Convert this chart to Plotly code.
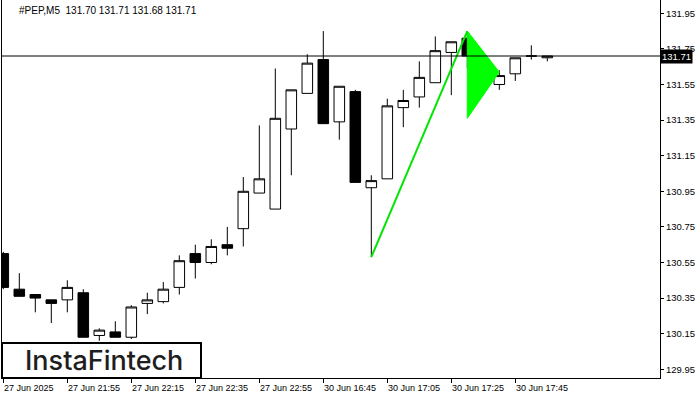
import plotly.graph_objects as go

# ---- data ----
opens  = [130.60, 130.40, 130.37, 130.34, 130.34, 130.38, 130.14, 130.16, 130.13, 130.32,
          130.33, 130.41, 130.60, 130.55, 130.65, 130.74, 130.94, 130.85, 131.30, 131.50,
          131.69, 131.34, 131.51, 130.97, 131.02, 131.42, 131.48, 131.56, 131.73, 131.81,
          131.68, 131.55, 131.61, 131.71, 131.70]
highs  = [130.61, 130.49, 130.37, 130.34, 130.45, 130.40, 130.18, 130.22, 130.31, 130.38,
          130.44, 130.59, 130.65, 130.68, 130.75, 131.03, 131.32, 131.64, 131.52, 131.72,
          131.85, 131.54, 131.52, 131.04, 131.47, 131.52, 131.68, 131.82, 131.79, 131.85,
          131.69, 131.63, 131.70, 131.77, 131.71]
lows   = [130.40, 130.36, 130.27, 130.21, 130.27, 130.13, 130.11, 130.13, 130.12, 130.26,
          130.32, 130.37, 130.46, 130.54, 130.59, 130.64, 130.94, 130.85, 131.04, 131.50,
          131.33, 131.24, 131.00, 130.58, 131.02, 131.31, 131.42, 131.56, 131.49, 131.64,
          131.49, 131.52, 131.57, 131.69, 131.68]
closes = [130.41, 130.36, 130.35, 130.32, 130.41, 130.13, 130.17, 130.13, 130.30, 130.34,
          130.40, 130.56, 130.55, 130.64, 130.63, 130.95, 131.02, 131.36, 131.52, 131.67,
          131.33, 131.54, 131.00, 131.01, 131.43, 131.46, 131.59, 131.74, 131.79, 131.71,
          131.58, 131.60, 131.70, 131.71, 131.71]
bar_index = list(range(len(opens)))

tick_idx = [0, 4, 8, 12, 16, 20, 24, 28, 32]
tick_text = ["27 Jun 2025", "27 Jun 21:55", "27 Jun 22:15", "27 Jun 22:35", "27 Jun 22:55",
             "30 Jun 16:45", "30 Jun 17:05", "30 Jun 17:25", "30 Jun 17:45"]
y_ticks = [129.95, 130.15, 130.35, 130.55, 130.75, 130.95, 131.15, 131.35, 131.55, 131.75, 131.95]

# bullish pennant pattern
pole_x = [23, 29]
pole_y = [130.58, 131.85]
flag_x = [29, 31, 29, 29]
flag_y = [131.85, 131.62, 131.36, 131.85]

symbol = "#PEP,M5"
FONT = "Liberation Sans, Arial, sans-serif"

fig = go.Figure()

fig.add_trace(go.Scatter(x=flag_x, y=flag_y, mode="lines", fill="toself",
                         fillcolor="#00ff00", line=dict(color="#00ff00", width=1),
                         hoverinfo="skip", showlegend=False))
fig.add_trace(go.Scatter(x=pole_x, y=pole_y, mode="lines",
                         line=dict(color="#00e600", width=2),
                         hoverinfo="skip", showlegend=False))

fig.add_trace(go.Candlestick(
    x=bar_index, open=opens, high=highs, low=lows, close=closes,
    increasing=dict(line=dict(color="black", width=1), fillcolor="white"),
    decreasing=dict(line=dict(color="black", width=1), fillcolor="black"),
    whiskerwidth=0, showlegend=False))

last_price = closes[-1]
fig.add_shape(type="line", xref="paper", x0=0, x1=1, yref="y", y0=last_price, y1=last_price,
              line=dict(color="black", width=1), layer="above")

# price label on the right axis
fig.add_annotation(xref="paper", x=1, xanchor="left", yref="y", y=last_price,
                   text=f"{last_price:.2f}", showarrow=False, bgcolor="black",
                   font=dict(family=FONT, size=9.5, color="white"), borderpad=1)

# title
fig.add_annotation(xref="paper", x=15 / 658, xanchor="left", yref="paper", y=(378 - 10) / 378,
                   yanchor="middle", showarrow=False,
                   text=f"{symbol}  {opens[-1]:.2f} {highs[-1]:.2f} {lows[-1]:.2f} {closes[-1]:.2f}",
                   font=dict(family=FONT, size=10, color="black"))

# x labels, left aligned at ticks
for ti, tt in zip(tick_idx, tick_text):
    fig.add_annotation(xref="x", x=ti, xanchor="left", xshift=-1, yref="paper", y=0,
                       yanchor="top", yshift=-3, showarrow=False, text=tt,
                       font=dict(family=FONT, size=9, color="black"))

# logo box
fig.add_shape(type="rect", xref="paper", yref="paper", x0=0, x1=199 / 658,
              y0=0, y1=(378 - 343) / 378, line=dict(color="black", width=2),
              fillcolor="white", layer="above")
fig.add_annotation(xref="paper", x=102 / 658, xanchor="center", yref="paper",
                   y=(378 - 360) / 378, yanchor="middle", showarrow=False,
                   text="InstaFintech",
                   font=dict(family="Inter, Lato, sans-serif", size=27, weight=500, color="#1e1e1e"))

fig.update_layout(
    width=700, height=400,
    margin=dict(l=2, r=40, t=0, b=22),
    paper_bgcolor="white", plot_bgcolor="white",
    boxgap=0.34, boxgroupgap=0,
    showlegend=False,
    hovermode=False,
    xaxis=dict(range=[-0.081, 41.044], rangeslider=dict(visible=False),
               tickmode="array", tickvals=tick_idx, ticktext=tick_text,
               showticklabels=False, ticks="outside", ticklen=4, tickcolor="black",
               showgrid=False, zeroline=False, showline=True, linecolor="black", linewidth=1),
    yaxis=dict(range=[129.901, 132.0247], side="right",
               tickmode="array", tickvals=y_ticks, ticktext=[f"{v:.2f}" for v in y_ticks],
               ticks="outside", ticklen=3, tickcolor="black",
               tickfont=dict(family=FONT, size=9.5, color="black"),
               showgrid=False, zeroline=False, showline=True, linecolor="black", linewidth=1,
               mirror=True),
)

fig.write_html("out.html", config={"displayModeBar": False},
               post_script="document.body.style.margin='0';document.body.style.padding='0';")
